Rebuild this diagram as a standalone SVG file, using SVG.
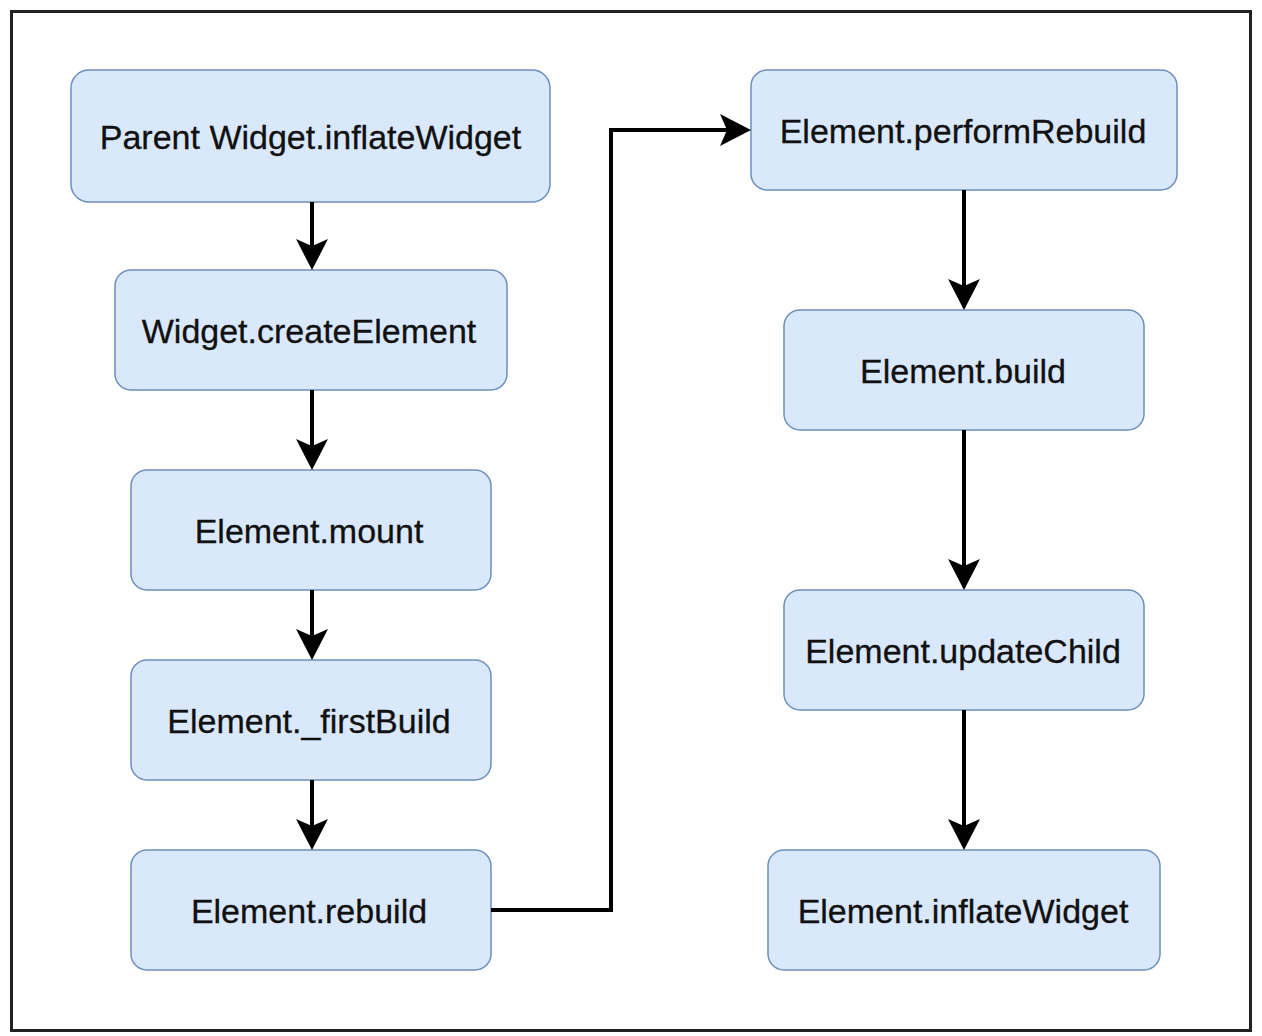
<svg xmlns="http://www.w3.org/2000/svg" width="1262" height="1036" viewBox="0 0 1262 1036">
<style>
.node rect{fill:#dae8fc;stroke:#6c8ebf;stroke-width:1.5}
.node text{font-family:"Liberation Sans",Arial,sans-serif;font-size:34px;fill:#111;stroke:#111;stroke-width:0.3;text-anchor:middle;dominant-baseline:central}
.conn{fill:none;stroke:#000;stroke-width:4}
.head{fill:#000;stroke:none}
</style>
<defs>
<path id="ah" d="M0 0 L-16 -31 L0 -24 L16 -31 Z"/>
</defs>
<rect x="11.5" y="11.5" width="1239" height="1019" fill="#fff" stroke="#222" stroke-width="3"/>
<g id="n1" class="node"><rect x="71" y="70" width="479" height="132" rx="18"/><text x="310.5" y="137">Parent Widget.inflateWidget</text></g>
<g id="n2" class="node"><rect x="115" y="270" width="392" height="120" rx="16"/><text x="309" y="331">Widget.createElement</text></g>
<g id="n3" class="node"><rect x="131" y="470" width="360" height="120" rx="16"/><text x="309" y="531">Element.mount</text></g>
<g id="n4" class="node"><rect x="131" y="660" width="360" height="120" rx="16"/><text x="309" y="721">Element._firstBuild</text></g>
<g id="n5" class="node"><rect x="131" y="850" width="360" height="120" rx="16"/><text x="309" y="911">Element.rebuild</text></g>
<g id="n6" class="node"><rect x="751" y="70" width="426" height="120" rx="16"/><text x="963" y="131">Element.performRebuild</text></g>
<g id="n7" class="node"><rect x="784" y="310" width="360" height="120" rx="16"/><text x="963" y="371">Element.build</text></g>
<g id="n8" class="node"><rect x="784" y="590" width="360" height="120" rx="16"/><text x="963" y="651">Element.updateChild</text></g>
<g id="n9" class="node"><rect x="768" y="850" width="392" height="120" rx="16"/><text x="963" y="911">Element.inflateWidget</text></g>
<g id="connectors">
<path class="conn" d="M312 202 V246"/><use href="#ah" class="head" transform="translate(312 270)"/>
<path class="conn" d="M312 390 V446"/><use href="#ah" class="head" transform="translate(312 470)"/>
<path class="conn" d="M312 590 V636"/><use href="#ah" class="head" transform="translate(312 660)"/>
<path class="conn" d="M312 780 V826"/><use href="#ah" class="head" transform="translate(312 850)"/>
<path class="conn" d="M491 910 H611 V130 H727"/><use href="#ah" class="head" transform="translate(751 130) rotate(-90)"/>
<path class="conn" d="M964 190 V286"/><use href="#ah" class="head" transform="translate(964 310)"/>
<path class="conn" d="M964 430 V566"/><use href="#ah" class="head" transform="translate(964 590)"/>
<path class="conn" d="M964 710 V826"/><use href="#ah" class="head" transform="translate(964 850)"/>
</g>
</svg>
